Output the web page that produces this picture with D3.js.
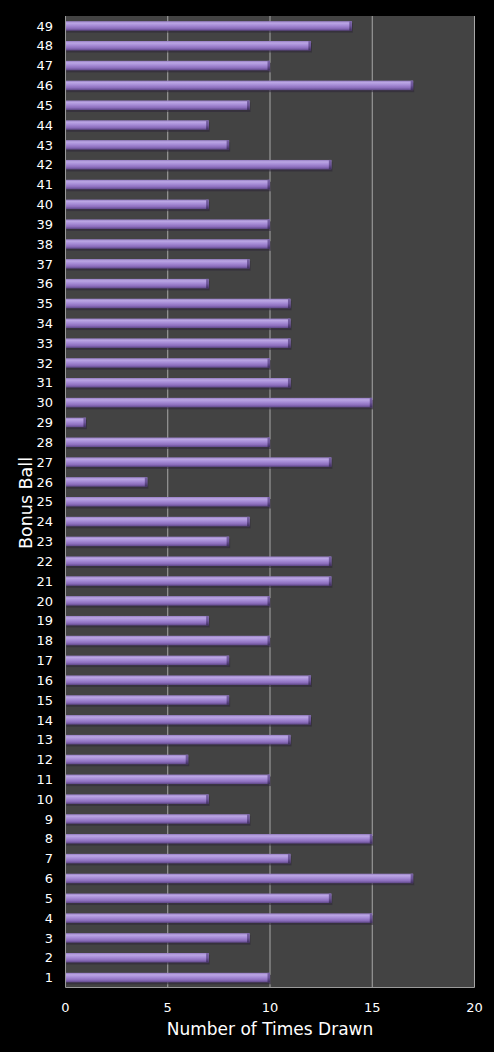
<!DOCTYPE html>
<html><head><meta charset="utf-8">
<script src="https://cdn.jsdelivr.net/npm/d3@7/dist/d3.min.js"></script>
<style>body{margin:0;background:#000;}svg{display:block;}</style>
</head><body>
<script>
const categories = d3.range(1, 50).map(String);
const values = [10,7,9,15,13,17,11,15,9,7,10,6,11,12,8,12,8,10,7,10,13,13,8,9,10,4,13,10,1,15,11,10,11,11,11,7,9,10,10,7,10,13,8,7,9,17,10,12,14];
const xTicks = [0,5,10,15,20];
const xTitle = "Number of Times Drawn";
const yTitle = "Bonus Ball";

const W = 494, H = 1052;
const m = {left: 65.5, right: 19.5, top: 16, bottom: 64.5};
const svg = d3.select("body").append("svg").attr("width", W).attr("height", H);
svg.append("rect").attr("width", W).attr("height", H).attr("fill", "#000");

const defs = svg.append("defs");
const g1 = defs.append("linearGradient").attr("id","bar").attr("x1",0).attr("y1",0).attr("x2",0).attr("y2",1);
[[0,"#957dc2"],[0.2,"#bba6e4"],[0.45,"#a78dd7"],[0.75,"#8c6ebd"],[1,"#5e4787"]].forEach(([o,c])=>g1.append("stop").attr("offset",o).attr("stop-color",c));
const g2 = defs.append("linearGradient").attr("id","cap").attr("x1",0).attr("y1",0).attr("x2",0).attr("y2",1);
[[0,"#7a64a6"],[0.5,"#6b5398"],[1,"#3f2f5e"]].forEach(([o,c])=>g2.append("stop").attr("offset",o).attr("stop-color",c));

const x = d3.scaleLinear().domain([0,20]).range([m.left, W - m.right]);
const y = d3.scaleBand().domain(categories.slice().reverse()).range([m.top, H - m.bottom]).paddingInner(0.52).paddingOuter(0.26);

svg.append("rect").attr("x", x(0)).attr("y", m.top).attr("width", x(20)-x(0)).attr("height", H - m.bottom - m.top).attr("fill", "#434343");

svg.append("g").selectAll("line").data(xTicks.slice(1)).join("line")
  .attr("x1", d=>x(d)).attr("x2", d=>x(d)).attr("y1", m.top).attr("y2", H - m.bottom)
  .attr("stroke", "#a8a8a8").attr("stroke-width", 1);

const data = categories.map((c,i)=>({c, v: values[i]}));
const bars = svg.append("g").selectAll("g").data(data).join("g");
bars.append("rect").attr("x", x(0)+1).attr("y", d=>y(d.c)+2).attr("width", d=>x(d.v)-x(0)).attr("height", y.bandwidth())
  .attr("fill", "#2e2838").attr("opacity", 0.6);
bars.append("rect").attr("x", x(0)).attr("y", d=>y(d.c)).attr("width", d=>x(d.v)-x(0)).attr("height", y.bandwidth())
  .attr("fill", "url(#bar)");
bars.append("rect").attr("x", d=>x(d.v)-2.5).attr("y", d=>y(d.c)).attr("width", 2.5).attr("height", y.bandwidth())
  .attr("fill", "url(#cap)");

// axes
svg.append("line").attr("x1", x(0)).attr("x2", x(20)).attr("y1", H - m.bottom).attr("y2", H - m.bottom).attr("stroke","#9a9a9a");
svg.append("line").attr("x1", x(0)).attr("x2", x(0)).attr("y1", m.top).attr("y2", H - m.bottom).attr("stroke","#9a9a9a");

const font = "'DejaVu Sans', Verdana, sans-serif";
svg.append("g").selectAll("text").data(xTicks).join("text")
  .attr("x", d=>x(d)).attr("y", H - m.bottom + 24).attr("text-anchor","middle")
  .attr("fill","#fff").attr("font-family",font).attr("font-size",13).text(d=>d);
svg.append("g").selectAll("text").data(categories).join("text")
  .attr("x", 53).attr("y", d=>y(d)+y.bandwidth()/2).attr("dy","0.36em").attr("text-anchor","end")
  .attr("fill","#fff").attr("font-family",font).attr("font-size",13).text(d=>d);

svg.append("text").attr("x", (x(0)+x(20))/2).attr("y", H - 17).attr("text-anchor","middle")
  .attr("fill","#fff").attr("font-family",font).attr("font-size",17).text(xTitle);
svg.append("text").attr("transform", `translate(32,503) rotate(-90)`).attr("text-anchor","middle")
  .attr("fill","#fff").attr("font-family",font).attr("font-size",17.5).text(yTitle);
</script>
</body></html>
